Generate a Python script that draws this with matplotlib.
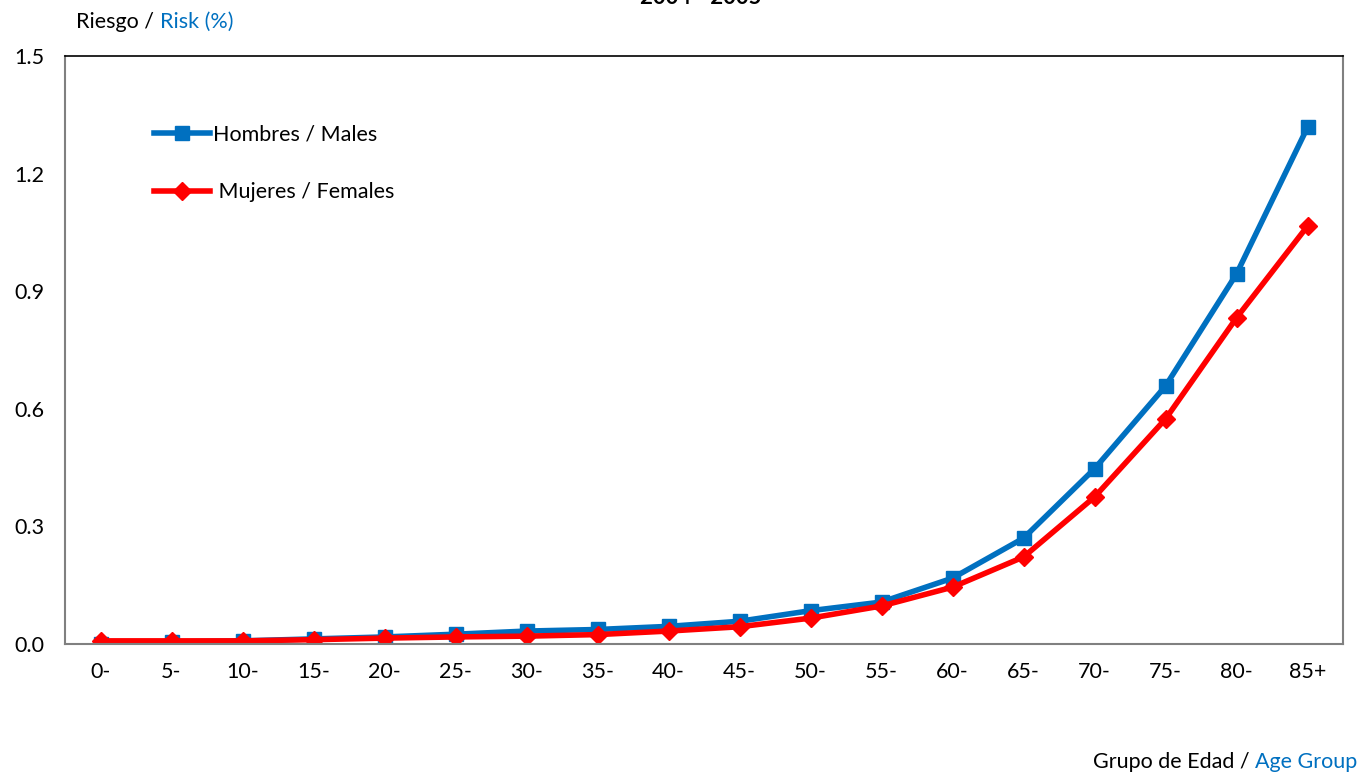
import matplotlib
matplotlib.use("Agg")
import matplotlib.pyplot as plt
from matplotlib.offsetbox import TextArea, HPacker, AnchoredOffsetbox

plt.rcParams['font.family'] = ['Lato', 'DejaVu Sans']

# Data
age_groups = ['0-', '5-', '10-', '15-', '20-', '25-', '30-', '35-', '40-',
              '45-', '50-', '55-', '60-', '65-', '70-', '75-', '80-', '85+']
males = [0.001, 0.005, 0.008, 0.013, 0.018, 0.025, 0.033, 0.037, 0.045,
         0.058, 0.085, 0.107, 0.168, 0.270, 0.447, 0.658, 0.944, 1.318]
females = [0.008, 0.008, 0.008, 0.011, 0.015, 0.018, 0.020, 0.024, 0.033,
           0.044, 0.066, 0.097, 0.145, 0.222, 0.375, 0.574, 0.832, 1.066]
yticks = [0.0, 0.3, 0.6, 0.9, 1.2, 1.5]

blue = '#0070C0'
red = '#FF0000'
fs = 15.5

fig = plt.figure(figsize=(13.61, 7.74), dpi=100)
ax = fig.add_axes([65/1361, 1 - 644/774, (1343-65)/1361, (644-56)/774])

x = range(len(age_groups))
ax.plot(x, males, color=blue, lw=4, marker='s', markersize=10.5,
        label='Hombres / Males')
ax.plot(x, females, color=red, lw=4, marker='D', markersize=9,
        label=' Mujeres / Females')

ax.set_xlim(-0.5, len(age_groups) - 0.5)
ax.set_ylim(0, 1.5)
ax.set_xticks(list(x))
ax.set_xticklabels(age_groups)
ax.set_yticks(yticks)
ax.set_yticklabels([f'{v:.1f}' for v in yticks])
ax.tick_params(length=0, labelsize=fs, pad=13)
ax.tick_params(axis='y', pad=15)

for side in ['left', 'bottom', 'right']:
    ax.spines[side].set_color('#808080')
    ax.spines[side].set_linewidth(1.5)
ax.spines['top'].set_color('black')
ax.spines['top'].set_linewidth(1.2)

leg = ax.legend(loc='upper left', bbox_to_anchor=(0.07, 0.883), frameon=False,
                fontsize=fs, handlelength=2.6, handletextpad=0.1,
                labelspacing=1.75, borderaxespad=0, borderpad=0)

# title, cut off at the top edge like the reference
fig.text(0.515, 1 - 4/774, '2004 - 2005', ha='center', va='baseline',
         fontsize=16, fontweight='bold')

# two-coloured axis captions
def two_colour(txt1, txt2, loc, anchor):
    box = HPacker(children=[TextArea(txt1, textprops=dict(color='black', fontsize=fs)),
                            TextArea(txt2, textprops=dict(color=blue, fontsize=fs))],
                  align='baseline', pad=0, sep=0)
    ab = AnchoredOffsetbox(loc=loc, child=box, frameon=False, pad=0, borderpad=0,
                           bbox_to_anchor=anchor, bbox_transform=fig.transFigure)
    fig.add_artist(ab)

two_colour('Riesgo / ', 'Risk (%)', 'center left', (76/1361, 1 - 22/774))
two_colour('Grupo de Edad / ', 'Age Group', 'center right', (1357/1361, 1 - 762/774))

fig.savefig('out.png', dpi=100)
